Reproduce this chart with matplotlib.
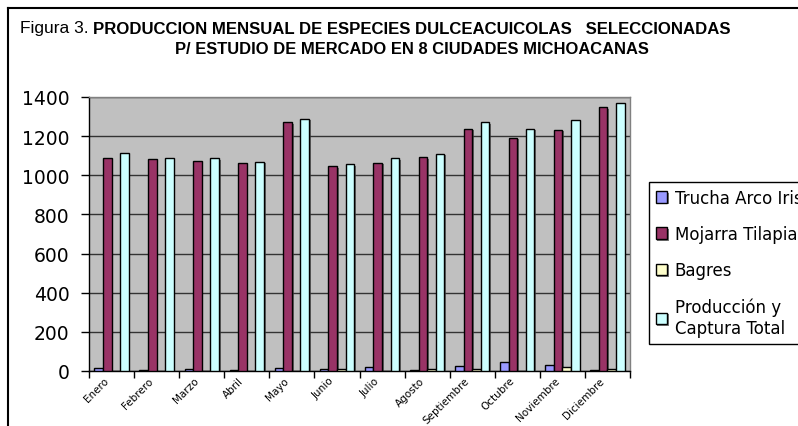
import matplotlib
matplotlib.use('Agg')
import matplotlib.pyplot as plt
import numpy as np
from matplotlib import patheffects as pe
from matplotlib.lines import Line2D

months = ['Enero', 'Febrero', 'Marzo', 'Abril', 'Mayo', 'Junio', 'Julio',
          'Agosto', 'Septiembre', 'Octubre', 'Noviembre', 'Diciembre']
trucha = [15, 3, 10, 3, 15, 10, 20, 3, 25, 45, 30, 3]
mojarra = [1089, 1084, 1075, 1064, 1270, 1045, 1064, 1094, 1238, 1192, 1233, 1347]
bagres = [2, 0, 2, 0, 2, 8, 2, 8, 8, 2, 20, 12]
total = [1115, 1089, 1089, 1070, 1289, 1058, 1089, 1110, 1273, 1238, 1284, 1369]
series_names = ['Trucha Arco Iris', 'Mojarra Tilapia', 'Bagres', 'Producción y\nCaptura Total']
series_colors = ['#9999FF', '#993366', '#FFFFCC', '#CCFFFF']
yticks = [0, 200, 400, 600, 800, 1000, 1200, 1400]

W, H = 798, 427
fig = plt.figure(figsize=(W / 100, H / 100), dpi=100)
ax = fig.add_axes([89 / W, 1 - 372 / H, 541 / W, 274 / H])
ax.set_facecolor('#C0C0C0')

x = np.arange(len(months))
w = 0.19
shadow = [pe.SimplePatchShadow(offset=(1.2, -1.2), shadow_rgbFace='#404040', alpha=0.7), pe.Normal()]
for i, (vals, col, name) in enumerate(zip([trucha, mojarra, bagres, total], series_colors, series_names)):
    bars = ax.bar(x + (i - 1.5) * w, vals, width=w, color=col, edgecolor='black',
                  linewidth=1.0, label=name, zorder=3)
    for b in bars:
        b.set_path_effects(shadow)

ax.set_xlim(-0.5, len(months) - 0.5)
ax.set_ylim(0, 1400)
ax.set_yticks(yticks)
ax.yaxis.grid(True, color='#333333', linewidth=1.0, zorder=1)
ax.set_axisbelow(True)

ax.set_xticks(np.arange(-0.5, len(months)), minor=False)
ax.set_xticklabels([])
ax.set_xticks(x - 0.18, minor=True)
ax.set_xticklabels(months, minor=True, rotation=45, ha='right', va='top',
                   rotation_mode='anchor', fontsize=7.5, family='DejaVu Sans')
ax.tick_params(axis='x', which='minor', length=0, pad=3)
ax.tick_params(axis='x', which='major', length=5, width=1, direction='out')
ax.tick_params(axis='y', length=6, width=1, direction='out', labelsize=13.5, pad=8)
for lab in ax.get_yticklabels():
    lab.set_family('DejaVu Sans')

for s in ['top', 'right']:
    ax.spines[s].set_color('#808080')
    ax.spines[s].set_linewidth(1.0)
for s in ['left', 'bottom']:
    ax.spines[s].set_color('black')
    ax.spines[s].set_linewidth(1.0)

leg = ax.legend(loc='upper left', bbox_to_anchor=(649 / W, 1 - 183 / H),
                bbox_transform=fig.transFigure, frameon=True, fancybox=False,
                edgecolor='black', framealpha=1, handlelength=0.7,
                handleheight=0.7, handletextpad=0.45, labelspacing=1.1,
                borderpad=0.4, borderaxespad=0,
                prop={'family': 'DejaVu Sans', 'size': 12})
leg.get_frame().set_linewidth(1.0)

# outer chart frame
fig.add_artist(Line2D([8 / W, 1], [1 - 9 / H, 1 - 9 / H], color='black', lw=1.5,
                      transform=fig.transFigure))
fig.add_artist(Line2D([8 / W, 8 / W], [0, 1 - 9 / H], color='black', lw=1.5,
                      transform=fig.transFigure))

fig.text(20 / W, 1 - 28 / H, 'Figura 3.', fontsize=12.5, va='center', ha='left',
         family=['Liberation Sans Narrow', 'Liberation Sans'])
fig.text(412 / W, 1 - 30 / H, 'PRODUCCION MENSUAL DE ESPECIES DULCEACUICOLAS   SELECCIONADAS',
         fontsize=12.1, fontweight='bold', va='center', ha='center', family='Liberation Sans')
fig.text(412 / W, 1 - 49 / H, 'P/ ESTUDIO DE MERCADO EN 8 CIUDADES MICHOACANAS',
         fontsize=11.9, fontweight='bold', va='center', ha='center', family='Liberation Sans')

fig.savefig('out.png', dpi=100)
